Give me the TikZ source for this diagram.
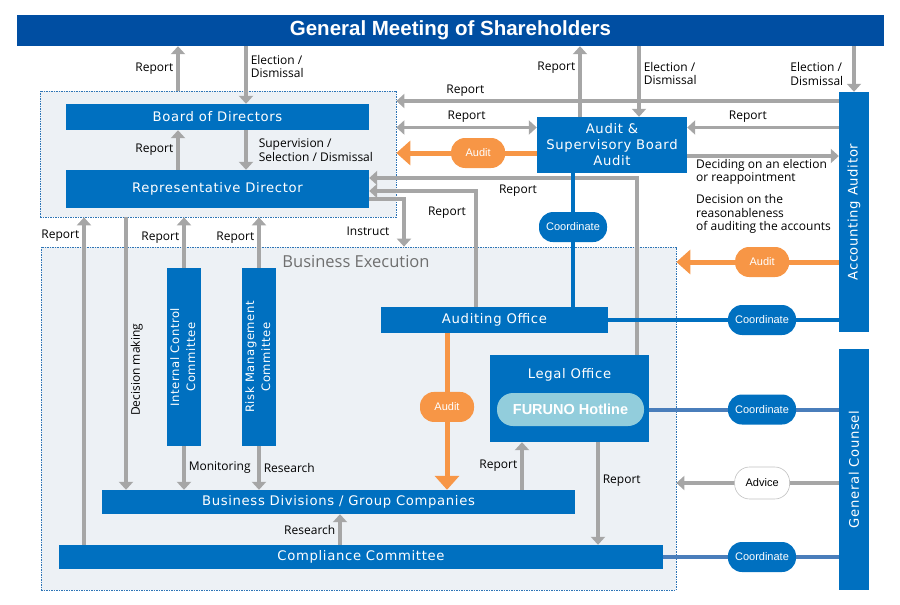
\documentclass[tikz,border=0pt]{standalone}
\usepackage{fontspec}
\setmainfont{Open Sans}
\newfontfamily\boxfont[LetterSpace=5]{DejaVu Sans}
\newfontfamily\pillfont{Liberation Sans}
\usepackage[HTML]{xcolor}
\usepackage{tikz}
\usetikzlibrary{positioning, arrows, arrows.meta}

\definecolor{gmblue}{HTML}{004EA2}
\definecolor{boxblue}{HTML}{0070C0}
\definecolor{coblue}{HTML}{4A7EBB}
\definecolor{lgray}{HTML}{A6A6A6}
\definecolor{aorange}{HTML}{F79646}
\definecolor{areabg}{HTML}{EDF1F5}
\definecolor{areaedge}{HTML}{2E75B6}
\definecolor{hotblue}{HTML}{92CDDC}
\definecolor{txtgray}{HTML}{6F6F6F}

\tikzset{
  box/.style={fill=boxblue, text=white, inner sep=0pt, align=center,
    font=\boxfont\fontsize{13.2}{16}\selectfont},
  boxtext/.style={text=white, inner sep=0pt, font=\boxfont\fontsize{13.2}{16}\selectfont},
  smallbox/.style={box, font=\boxfont\fontsize{11.6}{16}\selectfont},
  area/.style={fill=areabg, draw=areaedge, line width=0.7pt,
    dash pattern=on 1.5pt off 1pt, inner sep=0pt},
  lbl/.style={font=\fontsize{12}{13.5}\selectfont, text=black, align=left, inner sep=3pt},
  garrow/.style={draw=lgray, line width=3.5pt, -{Triangle[width=14pt,length=8pt]}},
  gdouble/.style={draw=lgray, line width=3.5pt,
    {Triangle[width=14pt,length=8pt]}-{Triangle[width=14pt,length=8pt]}},
  oarrow/.style={draw=aorange, line width=5pt, -{Triangle[width=24pt,length=14pt]}},
  coline/.style={draw=boxblue, line width=4pt},
  coline2/.style={draw=coblue, line width=4pt},
  pill/.style={rounded corners=14pt, minimum height=30pt, inner sep=0pt,
    font=\pillfont\fontsize{11}{12}\selectfont},
  pillO/.style={pill, fill=aorange, text=white, minimum width=54pt},
  pillB/.style={pill, fill=boxblue, text=white, minimum width=68pt},
  pillW/.style={pill, fill=white, draw=lgray!70, line width=0.6pt, text=black,
    minimum width=55pt, minimum height=32pt, rounded corners=15pt},
}

\begin{document}
\begin{tikzpicture}[x=1pt, y=-1pt]
\useasboundingbox (0,0) rectangle (900,605);

\coordinate (kA) at (178,0);
\coordinate (kB) at (246,0);
\coordinate (kC) at (580,0);
\coordinate (kD) at (639,0);
\coordinate (kE) at (84,0);
\coordinate (kF) at (126,0);
\coordinate (kG) at (522,0);
\coordinate (kH) at (598,0);
\coordinate (kI) at (340,0);
\coordinate (kJ) at (573,0);
\coordinate (kK) at (447,0);
\coordinate (rA) at (0,101);
\coordinate (rB) at (0,127.5);
\coordinate (rC) at (0,153);
\coordinate (rD) at (0,156);
\coordinate (rE) at (0,262);
\coordinate (rF) at (0,483);
\coordinate (bA) at (637,178);
\coordinate (bB) at (476,191);
\coordinate (bC) at (404,199);

\node[area, minimum width=356pt, minimum height=126pt] (BoardA) at (218,154) {};
\node[area, minimum width=635pt, minimum height=343pt] (ExecA) at (358.5,418.5) {};
\node[font=\fontsize{16.5}{18}\selectfont, text=txtgray, inner sep=0pt] (ExecT) at (356,262) {Business Execution};

\node[fill=gmblue, text=white, minimum width=867pt, minimum height=31pt, inner sep=0pt,
  font=\pillfont\bfseries\fontsize{20.5}{24}\selectfont] (GM) at (450.5,30.5) {General Meeting of Shareholders};

\node[box, minimum width=303pt, minimum height=26pt] (BoD)  at (217.5,117) {Board of Directors};
\node[box, minimum width=303pt, minimum height=38pt] (RepD) at (217.5,189) {Representative Director};
\node[box, minimum width=150pt, minimum height=56pt] (ASB)  at (612,145) {Audit \&\\Supervisory Board\\Audit};
\node[box, minimum width=30pt, minimum height=240pt] (AccA) at (854,212) {\rotatebox{90}{Accounting Auditor}};
\node[box, minimum width=30pt, minimum height=241pt] (GenC) at (854,469.5) {\rotatebox{90}{General Counsel}};
\node[box, minimum width=227pt, minimum height=26pt] (AudO) at (494.5,320) {Auditing Office};
\node[box, minimum width=159pt, minimum height=87pt] (LegO) at (569.5,398.5) {};
\node[boxtext] (LegT) at (569.5,375) {Legal Office};
\node[fill=hotblue, text=white, rounded corners=16pt, minimum width=147pt, minimum height=33pt,
  inner sep=0pt, font=\pillfont\bfseries\fontsize{14.5}{16}\selectfont] (Hot) at (570.5,409.5) {FURUNO Hotline};
\node[smallbox, minimum width=34pt, minimum height=178pt] (ICC) at (184,357)
  {\rotatebox{90}{\begin{tabular}{@{}c@{}}Internal Control\\Committee\end{tabular}}};
\node[smallbox, minimum width=34pt, minimum height=178pt] (RMC) at (259,357)
  {\rotatebox{90}{\begin{tabular}{@{}c@{}}Risk Management\\Committee\end{tabular}}};
\node[box, minimum width=473pt, minimum height=24pt] (BDiv) at (338.5,502) {Business Divisions / Group Companies};
\node[box, minimum width=604pt, minimum height=24pt] (Comp) at (361,557) {Compliance Committee};

\draw[garrow] (BoardA.north -| kA) -- node[lbl, left] (LRep1) {Report} (GM.south -| kA);
\draw[garrow] (GM.south -| kB) -- node[lbl, right, pos=0.35] (LEle1) {Election /\\Dismissal} (BoD.north -| kB);
\draw[garrow] (RepD.north -| kA) -- node[lbl, left] (LRep2) {Report} (BoD.south -| kA);
\draw[garrow] (BoD.south -| kB) -- node[lbl, right, xshift=8pt] (LSup) {Supervision /\\Selection / Dismissal} (RepD.north -| kB);
\draw[garrow] (AccA.west |- rA) -- node[lbl, above, pos=0.844] (LRep3) {Report} (BoardA.east |- rA);
\draw[gdouble] (BoardA.east |- rB) -- node[lbl, above] (LRep4) {Report} (ASB.west |- rB);
\draw[oarrow] (ASB.west |- rC) -- node[pillO, pos=0.418] (AudP1) {Audit} (BoardA.east |- rC);
\draw[garrow] (ASB.north -| kC) -- node[lbl, left, pos=0.69] (LRep5) {Report} (GM.south -| kC);
\draw[garrow] (GM.south -| kD) -- node[lbl, right, pos=0.39] (LEle2) {Election /\\Dismissal} (ASB.north -| kD);
\draw[garrow] (GM.south -| AccA.north) -- node[lbl, left, pos=0.61, xshift=-6pt] (LEle3) {Election /\\Dismissal} (AccA.north);
\draw[garrow] (AccA.west |- rB) -- node[lbl, above, pos=0.6] (LRep6) {Report} (ASB.east |- rB);
\draw[garrow] (ASB.east |- rD) -- (AccA.west |- rD);
\node[lbl, anchor=west] (LDec1) at (693,172) {Deciding on an election\\or reappointment};
\node[lbl, anchor=west] (LDec2) at (693,214) {Decision on the\\reasonableness\\of auditing the accounts};
\draw[oarrow] (AccA.west |- rE) -- node[pillO, pos=0.472] (AudP2) {Audit} (ExecA.east |- rE);

\draw[garrow] (LegO.north -| bA) |- (RepD.east |- bA);
\node[lbl] (LRep7) at (518,191) {Report};
\draw[garrow] (AudO.north -| bB) |- (RepD.east |- bB);
\node[lbl] (LRep8) at (447,213) {Report};
\draw[garrow] (RepD.east |- bC) -| (ExecA.north -| bC);
\node[lbl] (LIns) at (368,231) {Instruct};

\draw[garrow] (Comp.north -| kE) -- node[lbl, left, pos=0.945] (LRep9) {Report} (BoardA.south -| kE);
\draw[garrow] (BoardA.south -| kF) -- node[lbl, right, pos=0.56] (LDecm) {\rotatebox{90}{Decision making}} (BDiv.north -| kF);
\draw[garrow] (ICC.north) -- node[lbl, left, pos=0.6] (LRep10) {Report} (BoardA.south -| ICC.north);
\draw[garrow] (RMC.north) -- node[lbl, left, pos=0.6] (LRep11) {Report} (BoardA.south -| RMC.north);
\draw[garrow] (ICC.south) -- node[lbl, right] (LMon) {Monitoring} (BDiv.north -| ICC.south);
\draw[garrow] (RMC.south) -- node[lbl, right] (LRes1) {Research} (BDiv.north -| RMC.south);
\draw[oarrow] (AudO.south -| kK) -- node[pillO, pos=0.471] (AudP3) {Audit} (BDiv.north -| kK);
\draw[garrow] (BDiv.north -| kG) -- node[lbl, left] (LRep12) {Report} (LegO.south -| kG);
\draw[garrow] (LegO.south -| kH) -- node[lbl, right, pos=0.37] (LRep13) {Report} (Comp.north -| kH);
\draw[garrow] (Comp.north -| kI) -- node[lbl, left] (LRes2) {Research} (BDiv.south -| kI);

\draw[coline] (ASB.south -| kJ) -- node[pillB, pos=0.403] (CoP1) {Coordinate} (AudO.north -| kJ);
\draw[coline] (AudO.east) -- node[pillB, pos=0.667] (CoP2) {Coordinate} (AccA.west |- AudO.east);
\draw[coline2] (LegO.east |- Hot) -- node[pillB, pos=0.595] (CoP3) {Coordinate} (GenC.west |- Hot);
\draw[garrow] (GenC.west |- rF) -- node[pillW, pos=0.472] (AdvP) {Advice} (ExecA.east |- rF);
\draw[coline2] (Comp.east) -- node[pillB, pos=0.5625] (CoP4) {Coordinate} (GenC.west |- Comp.east);
\end{tikzpicture}
\end{document}
